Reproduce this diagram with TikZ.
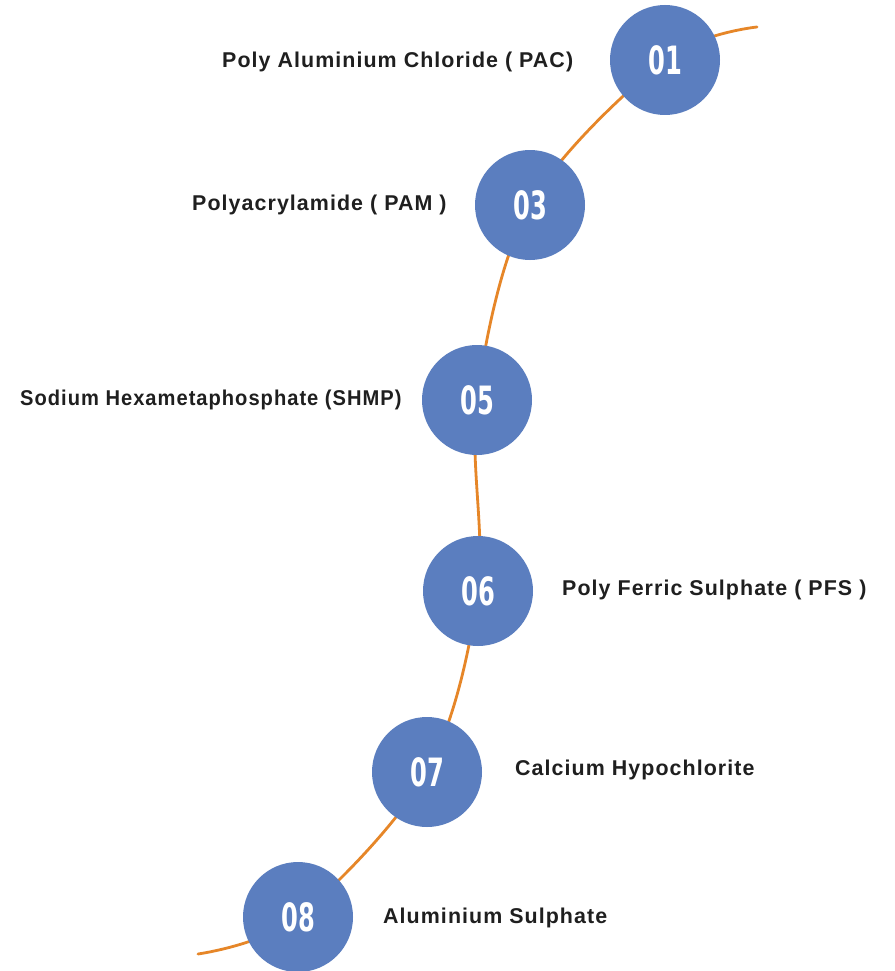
\documentclass[tikz,border=0pt]{standalone}
\usepackage{fontspec}
\setmainfont{Liberation Sans}
\newfontfamily\labelfont{Liberation Sans}[LetterSpace=5]
\newfontfamily\numfont{DejaVu Sans}
\definecolor{circblue}{RGB}{91,126,191}
\definecolor{lineorange}{RGB}{230,134,40}
\newcommand{\numtxt}[1]{\scalebox{0.62}[1]{\fontsize{39}{39}\selectfont\numfont\bfseries #1}}
\tikzset{
  stepcirc/.style={circle, fill=circblue, minimum size=110pt, inner sep=0pt, text=white},
  steplabel/.style={inner sep=0pt, font=\fontsize{21.4}{24}\selectfont\labelfont\bfseries, text=black!88},
  pathline/.style={draw=lineorange, line width=2.8pt, line cap=round}
}
\begin{document}
\begin{tikzpicture}[x=1pt,y=-1pt]
\useasboundingbox (0,0) rectangle (894,971);
\fill[white] (0,0) rectangle (894,971);
% path coordinates
\coordinate (s) at (757,27);
\coordinate (p1) at (665,60);
\coordinate (p3) at (530,205);
\coordinate (p5) at (477,400);
\coordinate (p6) at (478,591);
\coordinate (p7) at (427,772);
\coordinate (p8) at (298,917);
\coordinate (e) at (198,954);
\draw[pathline] plot[smooth, tension=0.55] coordinates {(s) (p1) (p3) (p5) (p6) (p7) (p8) (e)};
% circles
\node[stepcirc] (c1) at (p1) {\numtxt{01}};
\node[stepcirc] (c3) at (p3) {\numtxt{03}};
\node[stepcirc] (c5) at (p5) {\numtxt{05}};
\node[stepcirc] (c6) at (p6) {\numtxt{06}};
\node[stepcirc] (c7) at (p7) {\numtxt{07}};
\node[stepcirc] (c8) at (p8) {\numtxt{08}};
% labels
\node[steplabel, anchor=west] (l1) at (222,62) {Poly Aluminium Chloride ( PAC)};
\node[steplabel, anchor=west] (l3) at (192,205) {Polyacrylamide ( PAM )};
\node[steplabel, anchor=west] (l5) at (20,400) {\scalebox{0.94}[1]{Sodium Hexametaphosphate (SHMP)}};
\node[steplabel, anchor=west] (l6) at (562,590) {Poly Ferric Sulphate ( PFS )};
\node[steplabel, anchor=west] (l7) at (515,770) {Calcium Hypochlorite};
\node[steplabel, anchor=west] (l8) at (383,918) {Aluminium Sulphate};
\end{tikzpicture}
\end{document}
